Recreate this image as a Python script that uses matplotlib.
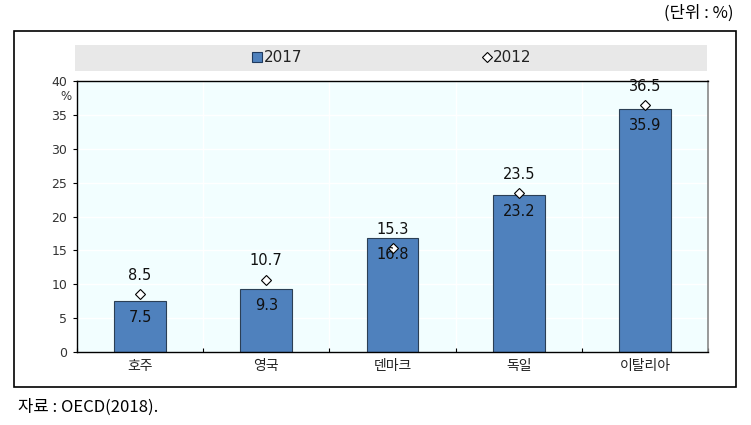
import matplotlib
matplotlib.use("Agg")
import matplotlib.pyplot as plt
from matplotlib.patches import Rectangle
from matplotlib.lines import Line2D
import numpy as np

plt.rcParams['font.family'] = ['DejaVu Sans', 'Noto Sans CJK KR']

countries = ['호주', '영국', '덴마크', '독일', '이탈리아']
val_2017 = [7.5, 9.3, 16.8, 23.2, 35.9]
val_2012 = [8.5, 10.7, 15.3, 23.5, 36.5]
yticks = [0, 5, 10, 15, 20, 25, 30, 35, 40]

BAR = '#4F81BD'
BG = '#F2FEFF'
CJK = ['Noto Sans CJK KR', 'DejaVu Sans']

fig = plt.figure(figsize=(7.51, 4.25), dpi=100)

# outer frame
fig.patches.append(Rectangle((14 / 751, 38 / 425), 722 / 751, 356 / 425,
                             transform=fig.transFigure, fill=False,
                             edgecolor='black', linewidth=1.2))

# legend band
fig.patches.append(Rectangle((75 / 751, 354.3 / 425), 632 / 751, 25.7 / 425,
                             transform=fig.transFigure, facecolor='#E8E8E8',
                             edgecolor='none'))
fig.text(264 / 751, 367.5 / 425, '2017', fontsize=11, va='center', ha='left', color='#222222')
fig.text(493 / 751, 367.5 / 425, '2012', fontsize=11, va='center', ha='left', color='#222222')
fig.lines.append(Line2D([257 / 751], [368 / 425], transform=fig.transFigure,
                        marker='s', markersize=7, markerfacecolor=BAR,
                        markeredgecolor='#1F3A5F', markeredgewidth=0.8, linestyle='none'))
fig.lines.append(Line2D([487 / 751], [368 / 425], transform=fig.transFigure,
                        marker='D', markersize=5, markerfacecolor='white',
                        markeredgecolor='black', markeredgewidth=0.8, linestyle='none'))

ax = fig.add_axes([77 / 751, 73 / 425, 631 / 751, 271 / 425])
ax.set_facecolor(BG)

x = np.arange(len(countries))
ax.set_xlim(-0.5, len(countries) - 0.5)
ax.set_ylim(0, 40)

for y in yticks[1:-1]:
    ax.axhline(y, color='white', linewidth=1, zorder=1)
for b in x[:-1] + 0.5:
    ax.axvline(b, color='white', linewidth=1, zorder=1)

ax.bar(x, val_2017, width=0.41, color=BAR, edgecolor='#2B3F55',
       linewidth=0.8, zorder=2)
ax.plot(x, val_2012, linestyle='none', marker='D', markersize=5,
        markerfacecolor='white', markeredgecolor='black', markeredgewidth=0.8, zorder=4)

for xi, v in zip(x, val_2017):
    ax.annotate(f'{v}', (xi, v), xytext=(0, -6.5), textcoords='offset points',
                ha='center', va='top', fontsize=10.5, color='#111111', zorder=5)
for xi, v in zip(x, val_2012):
    ax.annotate(f'{v}', (xi, v), xytext=(0, 8), textcoords='offset points',
                ha='center', va='bottom', fontsize=10.5, color='#111111', zorder=5)

ax.set_yticks(yticks)
ax.set_yticklabels([str(t) for t in yticks], fontsize=9, color='#333333')
ax.tick_params(axis='y', direction='out', length=3, width=0.8, pad=4)

ax.set_xticks(x)
ax.set_xticklabels(countries, fontsize=10, color='#222222', family=CJK)
ax.set_xticks(np.arange(-0.5, len(countries)), minor=True)
ax.tick_params(axis='x', which='major', length=0, pad=5)
ax.tick_params(axis='x', which='minor', direction='in', length=3, width=0.8)

for side in ['top', 'left', 'bottom']:
    ax.spines[side].set_color('black')
    ax.spines[side].set_linewidth(1)
ax.spines['right'].set_color('#888888')
ax.spines['right'].set_linewidth(1.2)

fig.text(66 / 751, (425 - 97) / 425, '%', fontsize=8.5, ha='center', va='center', color='#333333')

fig.text(733 / 751, (425 - 13) / 425, '(단위 : %)', fontsize=12, ha='right', va='center', family=CJK)
fig.text(18 / 751, (425 - 407) / 425, '자료 : OECD(2018).', fontsize=12, ha='left', va='center', family=CJK)

fig.savefig('out.png', dpi=100)
